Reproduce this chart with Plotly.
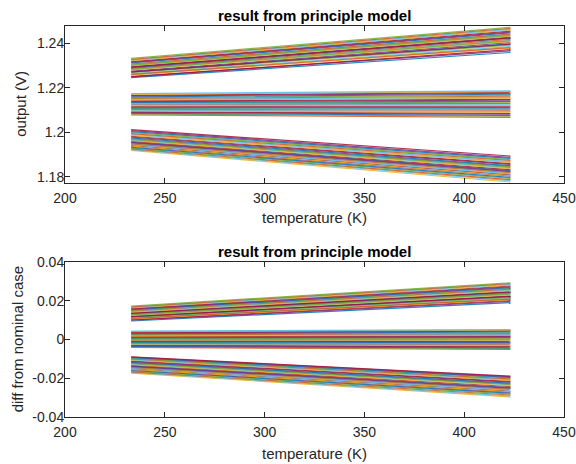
import plotly.graph_objects as go

# temperature span of every sweep (K)
temp = [233.15, 423.15]

# ---- panel 1: output (V) at start / end temperature ----
up_out_start = [1.2246, 1.2251, 1.2249, 1.2257, 1.2263, 1.2260, 1.2268, 1.2272, 1.2275, 1.2271,
                1.2280, 1.2284, 1.2287, 1.2283, 1.2291, 1.2295, 1.2293, 1.2300, 1.2304, 1.2307,
                1.2302, 1.2312, 1.2315, 1.2318, 1.2322, 1.2325, 1.2328, 1.2332]
up_out_end = [1.2359, 1.2366, 1.2372, 1.2378, 1.2385, 1.2381, 1.2392, 1.2398, 1.2403, 1.2396,
              1.2408, 1.2413, 1.2418, 1.2411, 1.2423, 1.2428, 1.2425, 1.2433, 1.2438, 1.2442,
              1.2436, 1.2447, 1.2451, 1.2455, 1.2459, 1.2463, 1.2467, 1.2472]
mid_out_start = [1.2078, 1.2082, 1.2085, 1.2089, 1.2092, 1.2096, 1.2099, 1.2103, 1.2106, 1.2110,
                 1.2113, 1.2117, 1.2120, 1.2124, 1.2127, 1.2131, 1.2134, 1.2138, 1.2141, 1.2145,
                 1.2148, 1.2152, 1.2155, 1.2159, 1.2163, 1.2166, 1.2170, 1.2174]
mid_out_end = [1.2067, 1.2072, 1.2076, 1.2081, 1.2085, 1.2090, 1.2094, 1.2099, 1.2103, 1.2108,
               1.2112, 1.2117, 1.2121, 1.2126, 1.2130, 1.2135, 1.2139, 1.2144, 1.2148, 1.2153,
               1.2157, 1.2162, 1.2166, 1.2171, 1.2175, 1.2179, 1.2183, 1.2186]
low_out_start = [1.1918, 1.1922, 1.1925, 1.1929, 1.1932, 1.1936, 1.1940, 1.1938, 1.1944, 1.1948,
                 1.1951, 1.1955, 1.1953, 1.1959, 1.1962, 1.1966, 1.1970, 1.1968, 1.1974, 1.1978,
                 1.1982, 1.1986, 1.1990, 1.1994, 1.1998, 1.2003, 1.2007, 1.2012]
low_out_end = [1.1776, 1.1782, 1.1787, 1.1792, 1.1797, 1.1803, 1.1808, 1.1805, 1.1813, 1.1818,
               1.1822, 1.1827, 1.1824, 1.1832, 1.1836, 1.1841, 1.1846, 1.1843, 1.1850, 1.1855,
               1.1859, 1.1864, 1.1868, 1.1873, 1.1877, 1.1882, 1.1887, 1.1893]

# ---- panel 2: diff from nominal case at start / end temperature ----
up_diff_start = [0.0095, 0.0099, 0.0102, 0.0106, 0.0110, 0.0108, 0.0114, 0.0117, 0.0120, 0.0118,
                 0.0124, 0.0127, 0.0130, 0.0128, 0.0134, 0.0137, 0.0135, 0.0141, 0.0144, 0.0147,
                 0.0150, 0.0153, 0.0156, 0.0159, 0.0162, 0.0165, 0.0168, 0.0172]
up_diff_end = [0.0190, 0.0196, 0.0201, 0.0206, 0.0211, 0.0208, 0.0216, 0.0221, 0.0225, 0.0222,
               0.0230, 0.0234, 0.0238, 0.0235, 0.0243, 0.0247, 0.0245, 0.0252, 0.0256, 0.0260,
               0.0264, 0.0268, 0.0272, 0.0276, 0.0280, 0.0284, 0.0288, 0.0292]
mid_diff_start = [-0.0042, -0.0039, -0.0036, -0.0033, -0.0030, -0.0026, -0.0023, -0.0020, -0.0017, -0.0014,
                  -0.0010, -0.0007, -0.0004, -0.0001, 0.0002, 0.0005, 0.0008, 0.0011, 0.0014, 0.0017,
                  0.0021, 0.0024, 0.0027, 0.0030, 0.0033, 0.0036, 0.0040, 0.0043]
mid_diff_end = [-0.0052, -0.0048, -0.0044, -0.0040, -0.0036, -0.0032, -0.0029, -0.0025, -0.0021, -0.0017,
                -0.0013, -0.0009, -0.0005, -0.0001, 0.0002, 0.0006, 0.0010, 0.0014, 0.0018, 0.0022,
                0.0026, 0.0030, 0.0034, 0.0038, 0.0042, 0.0045, 0.0048, 0.0050]
low_diff_start = [-0.0175, -0.0171, -0.0168, -0.0164, -0.0161, -0.0157, -0.0153, -0.0155, -0.0149, -0.0145,
                  -0.0142, -0.0138, -0.0140, -0.0134, -0.0131, -0.0127, -0.0123, -0.0125, -0.0119, -0.0115,
                  -0.0112, -0.0108, -0.0105, -0.0101, -0.0098, -0.0095, -0.0092, -0.0090]
low_diff_end = [-0.0298, -0.0293, -0.0288, -0.0283, -0.0278, -0.0273, -0.0268, -0.0271, -0.0263, -0.0258,
                -0.0254, -0.0249, -0.0252, -0.0244, -0.0240, -0.0235, -0.0230, -0.0233, -0.0226, -0.0221,
                -0.0217, -0.0212, -0.0208, -0.0204, -0.0200, -0.0197, -0.0193, -0.0190]

colors = ["#0072BD", "#D95319", "#EDB120", "#7E2F8E", "#77AC30", "#4DBEEE", "#A2142F"]

x_ticks = [200, 250, 300, 350, 400, 450]
out_ticks = [1.18, 1.2, 1.22, 1.24]
out_labels = ["1.18", "1.2", "1.22", "1.24"]
diff_ticks = [-0.04, -0.02, 0, 0.02, 0.04]
diff_labels = ["-0.04", "-0.02", "0", "0.02", "0.04"]

fig = go.Figure()

def add_group(starts, ends, xa, ya, offset):
    for i, (s, e) in enumerate(zip(starts, ends)):
        fig.add_trace(go.Scatter(
            x=temp, y=[s, e], mode="lines", xaxis=xa, yaxis=ya, opacity=0.85,
            line=dict(color=colors[(i * 3 + offset) % len(colors)], width=1.2),
            showlegend=False, hoverinfo="skip"))

add_group(up_out_start, up_out_end, "x", "y", 0)
add_group(mid_out_start, mid_out_end, "x", "y", 1)
add_group(low_out_start, low_out_end, "x", "y", 2)
add_group(up_diff_start, up_diff_end, "x2", "y2", 0)
add_group(mid_diff_start, mid_diff_end, "x2", "y2", 1)
add_group(low_diff_start, low_diff_end, "x2", "y2", 2)

font_family = "Liberation Sans, Arial, sans-serif"
ax_color = "#262626"
common = dict(showline=True, mirror="ticks", linecolor=ax_color, linewidth=1, automargin=False,
              ticks="inside", ticklen=5, tickcolor=ax_color, showgrid=False, zeroline=False,
              tickfont=dict(family=font_family, size=14, color=ax_color))

xd = [65 / 576, 564 / 576]
top_d = [1 - 182.7 / 464, 1 - 26 / 464]
bot_d = [1 - 416.7 / 464, 1 - 262 / 464]

fig.update_layout(
    width=576, height=464,
    margin=dict(l=0, r=0, t=0, b=0, pad=0),
    paper_bgcolor="white", plot_bgcolor="white",
    xaxis=dict(domain=xd, range=[200, 450], tickvals=x_ticks, anchor="y",
               ticklabelstandoff=2, **common),
    yaxis=dict(domain=top_d, range=[1.1773, 1.2478], tickvals=out_ticks,
               ticktext=out_labels, anchor="x", ticklabelstandoff=-3, **common),
    xaxis2=dict(domain=xd, range=[200, 450], tickvals=x_ticks, anchor="y2",
                ticklabelstandoff=2, **common),
    yaxis2=dict(domain=bot_d, range=[-0.04, 0.04], tickvals=diff_ticks,
                ticktext=diff_labels, anchor="x2", ticklabelstandoff=-3, **common),
)

title_font = dict(family=font_family, size=15, color="black")
label_font = dict(family=font_family, size=15, color=ax_color)
xc = (xd[0] + xd[1]) / 2
annos = [
    dict(text="<b>result from principle model</b>", x=xc, y=1 - 15 / 464),
    dict(text="<b>result from principle model</b>", x=xc, y=1 - 251.7 / 464),
    dict(text="temperature (K)", x=xc, y=1 - 217.7 / 464),
    dict(text="temperature (K)", x=xc, y=1 - 453 / 464),
    dict(text="output (V)", x=20.5 / 576, y=(top_d[0] + top_d[1]) / 2, textangle=-90),
    dict(text="diff from nominal case", x=17 / 576, y=(bot_d[0] + bot_d[1]) / 2, textangle=-90),
]
for i, a in enumerate(annos):
    a.update(xref="paper", yref="paper", xanchor="center", yanchor="middle", showarrow=False,
             font=title_font if i < 2 else label_font)
fig.update_layout(annotations=annos)

fig.write_html("out.html")
